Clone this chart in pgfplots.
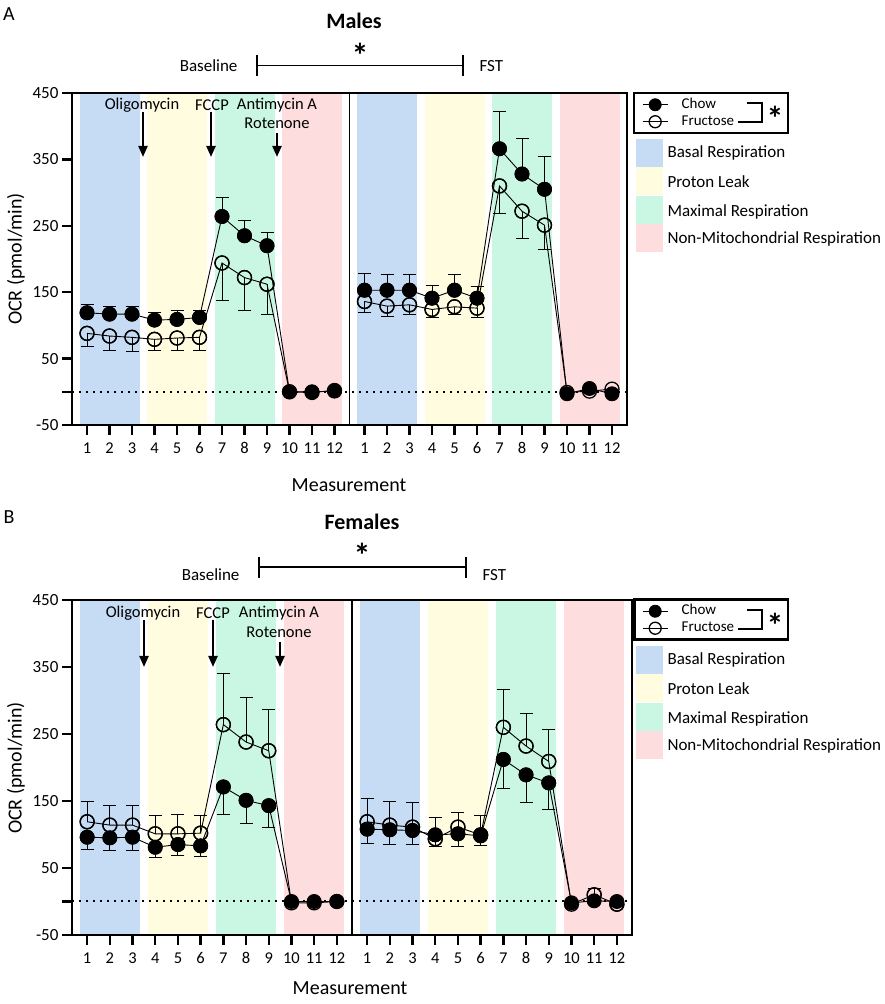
\documentclass[border=0pt]{standalone}
\usepackage{pgfplots}
\pgfplotsset{compat=1.18}
\usepackage{fontspec}
\setmainfont{Carlito}
\usetikzlibrary{arrows.meta}

\definecolor{cblue}{RGB}{198,219,244}
\definecolor{cyel}{RGB}{255,252,224}
\definecolor{cgreen}{RGB}{202,246,228}
\definecolor{cpink}{RGB}{253,221,221}

\newcommand\fs[1]{\fontsize{#1}{#1}\selectfont}

\newcommand{\bands}{%
 \fill[cblue] (axis cs:0.6667,-50) rectangle (axis cs:3.3333,450);
 \fill[cyel] (axis cs:3.6667,-50) rectangle (axis cs:6.3333,450);
 \fill[cgreen] (axis cs:6.6667,-50) rectangle (axis cs:9.3333,450);
 \fill[cpink] (axis cs:9.6667,-50) rectangle (axis cs:12.3333,450);
 \fill[cblue] (axis cs:13,-50) rectangle (axis cs:15.6667,450);
 \fill[cyel] (axis cs:16,-50) rectangle (axis cs:18.6667,450);
 \fill[cgreen] (axis cs:19,-50) rectangle (axis cs:21.6667,450);
 \fill[cpink] (axis cs:22,-50) rectangle (axis cs:24.6667,450);
 \draw[line width=1.5pt] (axis cs:12.6667,-50) -- (axis cs:12.6667,450);
 \draw[line width=2pt, dash pattern=on 2pt off 5pt] (axis cs:0.3333,0) -- (axis cs:25,0);
}

\pgfplotsset{
 ocr/.style={
  scale only axis, anchor=south west,
  xmin=0.3333, xmax=25, ymin=-50, ymax=450,
  axis on top,
  xtick={1,2,3,4,5,6,7,8,9,10,11,12,13.3333,14.3333,15.3333,16.3333,17.3333,18.3333,19.3333,20.3333,21.3333,22.3333,23.3333,24.3333},
  xticklabels={1,2,3,4,5,6,7,8,9,10,11,12,1,2,3,4,5,6,7,8,9,10,11,12},
  ytick={-50,0,50,150,250,350,450},
  yticklabels={-50,,50,150,250,350,450},
  tick align=outside, xtick pos=bottom, ytick pos=left,
  major tick length=10pt,
  tick style={black, line width=2.5pt},
  axis line style={line width=2.5pt},
  xticklabel style={font=\fs{16.5}, yshift=-4pt},
  yticklabel style={font=\fs{17}},
  legend style={anchor=north west, draw=black, line width=2.5pt, fill=white,
    inner xsep=8pt, inner ysep=3.5pt, column sep=12pt, row sep=1pt,
    nodes={inner sep=1.5pt, text height=10pt, text depth=3pt, font=\fs{15}}},
  legend cell align=left,
  legend image code/.code={\draw[mark repeat=2,mark phase=2,#1] plot coordinates {(0pt,0pt)(12.5pt,0pt)(25pt,0pt)};},
  legend image post style={mark size=6pt},
 },
 chow/.style={black, line width=0.9pt, mark=*, mark size=7pt, mark options={solid}},
 fruc/.style={black, line width=0.9pt, mark=o, mark size=7pt, mark options={solid, line width=1.3pt}},
 eb/.style={only marks, forget plot, error bars/.cd, y explicit, y dir=#1,
   error bar style={line width=0.9pt, black},
   error mark options={rotate=90, black, mark size=6.5pt, line width=0.9pt}},
}

\begin{document}
\begin{tikzpicture}[x=1pt,y=1pt]
\useasboundingbox (0,0) rectangle (885,1004);

%================ Panel A: Males ================
\begin{axis}[ocr, at={(72pt,579pt)}, width=555pt, height=332pt,
  legend style={at={(axis description cs:1.0108,1.003)}}]
\bands
% error bars
\addplot[chow, eb=plus] table[x=m, y=y, y error=e] {
m y e
1 119 12
2 117 12
3 117 12
4 108 12
5 109 14
6 112 11
7 264 29
8 235 23
9 220 20
};
\addplot[fruc, eb=minus] table[x=m, y=y, y error=e] {
m y e
1 88 19
2 84 22
3 82 21
4 79 17
5 81 18
6 82 19
7 194 56
8 172 49
9 162 45
};
\addplot[chow, eb=plus] table[x expr=\thisrow{m}+12.3333, y=y, y error=e] {
m y e
1 153 25
2 153 24
3 153 23
4 141 19
5 153 23
6 141 18
7 366 56
8 328 54
9 305 49
};
\addplot[fruc, eb=minus] table[x expr=\thisrow{m}+12.3333, y=y, y error=e] {
m y e
1 136 17
2 129 16
3 131 15
4 124 12
5 128 12
6 126 14
7 310 41
8 272 41
9 251 37
};
% lines
\addplot[chow] table[x=m, y=y] {
m y
1 119
2 117
3 117
4 108
5 109
6 112
7 264
8 235
9 220
10 0
11 0
12 1
};
\addlegendentry{\makebox[97pt][l]{Chow}}
\addplot[fruc] table[x=m, y=y] {
m y
1 88
2 84
3 82
4 79
5 81
6 82
7 194
8 172
9 162
10 0
11 -1
12 2
};
\addlegendentry{\makebox[97pt][l]{Fructose}}
\addplot[chow, forget plot] table[x expr=\thisrow{m}+12.3333, y=y] {
m y
1 153
2 153
3 153
4 141
5 153
6 141
7 366
8 328
9 305
10 -3
11 5
12 -3
};
\addplot[fruc, forget plot] table[x expr=\thisrow{m}+12.3333, y=y] {
m y
1 136
2 129
3 131
4 124
5 128
6 126
7 310
8 272
9 251
10 -1
11 1
12 4
};
\end{axis}

% Panel A annotations
\node[font=\fs{20}] at (9,989.5) {A};
\node[font=\fs{22}\bfseries] at (354,983) {Males};
\node[font=\fs{34}\bfseries, anchor=base] at (360,936) {*};
\draw[line width=1.6pt] (257,938.3) -- (463,938.3);
\draw[line width=2.5pt] (257,928) -- (257,949);
\draw[line width=2.5pt] (463,928) -- (463,949);
\node[font=\fs{17}, anchor=east] at (241,938) {Baseline};
\node[font=\fs{17}, anchor=west] at (476,938) {FST};
\node[font=\fs{16.5}] at (142,899) {Oligomycin};
\node[font=\fs{16.5}] at (212,899) {FCCP};
\node[font=\fs{16.5}] at (277,899) {Antimycin A};
\node[font=\fs{16.5}] at (277,881) {Rotenone};
\draw[line width=2.2pt, -{Triangle[width=9pt,length=11pt]}] (143,892) -- (143,847);
\draw[line width=2.2pt, -{Triangle[width=9pt,length=11pt]}] (211,892) -- (211,847);
\draw[line width=2.2pt, -{Triangle[width=9pt,length=11pt]}] (277,871) -- (277,847);
\node[font=\fs{20}, rotate=90] at (16,745) {OCR (pmol/min)};
\node[font=\fs{20}] at (349,519) {Measurement};
% legend extras A
\draw[line width=2pt] (747,901) -- (762,901) -- (762,882) -- (738,882);
\node[font=\fs{34}\bfseries, anchor=base] at (775,873) {*};
\fill[cblue] (636,865) rectangle (663,837);
\fill[cyel] (636,837) rectangle (663,809);
\fill[cgreen] (636,808) rectangle (663,780);
\fill[cpink] (636,780) rectangle (663,752);
\node[font=\fs{17}, anchor=west] at (664,851) {Basal Respiration};
\node[font=\fs{17}, anchor=west] at (664,822) {Proton Leak};
\node[font=\fs{17}, anchor=west] at (664,792) {Maximal Respiration};
\node[font=\fs{17}, anchor=west] at (664,765) {Non-Mitochondrial Respiration};

%================ Panel B: Females ================
\begin{axis}[ocr, at={(72pt,69pt)}, width=560pt, height=335pt,
  legend style={at={(axis description cs:1.0018,1.0045)}}]
\bands
\addplot[chow, eb=minus] table[x=m, y=y, y error=e] {
m y e
1 96 19
2 95 19
3 96 20
4 81 15
5 85 16
6 83 16
7 171 41
8 151 35
9 143 33
};
\addplot[fruc, eb=plus] table[x=m, y=y, y error=e] {
m y e
1 119 30
2 114 30
3 114 30
4 101 27
5 101 29
6 102 26
7 264 77
8 238 67
9 225 62
};
\addplot[chow, eb=minus] table[x expr=\thisrow{m}+12.3333, y=y, y error=e] {
m y e
1 108 21
2 107 22
3 106 21
5 101 19
6 98 15
7 212 43
8 189 41
9 177 39
};
\addplot[chow, eb=plus] table[x expr=\thisrow{m}+12.3333, y=y, y error=e] {
m y e
4 99.5 26.5
};
\addplot[fruc, eb=plus] table[x expr=\thisrow{m}+12.3333, y=y, y error=e] {
m y e
1 119 35
2 114 36
3 111 37
5 111 22
6 99.5 28.5
7 260 56
8 232 49
9 209 48
11 10 10
};
\addplot[fruc, eb=minus] table[x expr=\thisrow{m}+12.3333, y=y, y error=e] {
m y e
4 93.5 11.5
12 -4 4
};
\addplot[chow] table[x=m, y=y] {
m y
1 96
2 95
3 96
4 81
5 85
6 83
7 171
8 151
9 143
10 0
11 0
12 0
};
\addlegendentry{\makebox[97pt][l]{Chow}}
\addplot[fruc] table[x=m, y=y] {
m y
1 119
2 114
3 114
4 101
5 101
6 102
7 264
8 238
9 225
10 -2
11 -2
12 0
};
\addlegendentry{\makebox[97pt][l]{Fructose}}
\addplot[chow, forget plot] table[x expr=\thisrow{m}+12.3333, y=y] {
m y
1 108
2 107
3 106
4 99.5
5 101
6 98
7 212
8 189
9 177
10 -2
11 1
12 0
};
\addplot[fruc, forget plot] table[x expr=\thisrow{m}+12.3333, y=y] {
m y
1 119
2 114
3 111
4 93.5
5 111
6 99.5
7 260
8 232
9 209
10 -4
11 10
12 -4
};
\end{axis}

% Panel B annotations
\node[font=\fs{20}] at (9,487) {B};
\node[font=\fs{22}\bfseries] at (362,482) {Females};
\node[font=\fs{34}\bfseries, anchor=base] at (362,436) {*};
\draw[line width=1.6pt] (259,437) -- (466,437);
\draw[line width=2.5pt] (259,426) -- (259,447);
\draw[line width=2.5pt] (466,426) -- (466,447);
\node[font=\fs{17}, anchor=east] at (243,429) {Baseline};
\node[font=\fs{17}, anchor=west] at (479,429) {FST};
\node[font=\fs{16.5}] at (143,391) {Oligomycin};
\node[font=\fs{16.5}] at (213,391) {FCCP};
\node[font=\fs{16.5}] at (279,391) {Antimycin A};
\node[font=\fs{16.5}] at (279,372) {Rotenone};
\draw[line width=2.2pt, -{Triangle[width=9pt,length=11pt]}] (144,384) -- (144,337);
\draw[line width=2.2pt, -{Triangle[width=9pt,length=11pt]}] (213,384) -- (213,337);
\draw[line width=2.2pt, -{Triangle[width=9pt,length=11pt]}] (280,362) -- (280,337);
\node[font=\fs{20}, rotate=90] at (16,236) {OCR (pmol/min)};
\node[font=\fs{20}] at (350,16) {Measurement};
% legend extras B
\draw[line width=2pt] (747,394) -- (762,394) -- (762,375) -- (738,375);
\node[font=\fs{34}\bfseries, anchor=base] at (775,366) {*};
\fill[cblue] (636,358) rectangle (663,330);
\fill[cyel] (636,330) rectangle (663,302);
\fill[cgreen] (636,301) rectangle (663,273);
\fill[cpink] (636,273) rectangle (663,245);
\node[font=\fs{17}, anchor=west] at (664,344) {Basal Respiration};
\node[font=\fs{17}, anchor=west] at (664,315) {Proton Leak};
\node[font=\fs{17}, anchor=west] at (664,285) {Maximal Respiration};
\node[font=\fs{17}, anchor=west] at (664,258) {Non-Mitochondrial Respiration};
\end{tikzpicture}
\end{document}
